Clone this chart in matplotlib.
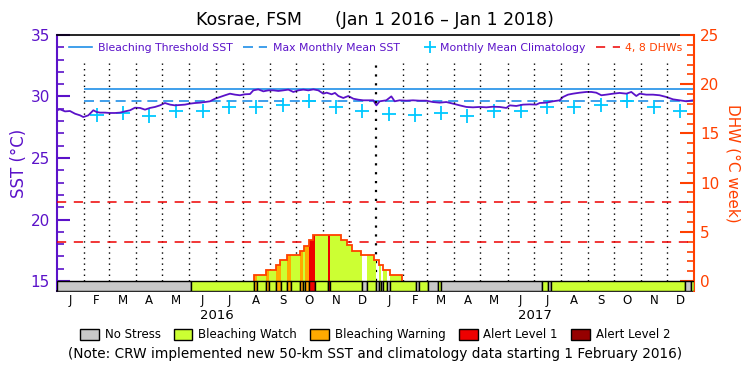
import numpy as np
import matplotlib
matplotlib.use("Agg")
import matplotlib.pyplot as plt
from matplotlib.lines import Line2D
from matplotlib.patches import Patch
from matplotlib.legend_handler import HandlerLine2D
import matplotlib.transforms as mtransforms

# ---------------------------------------------------------------------------
# Data (x values are days since 2016-01-01)
# ---------------------------------------------------------------------------
START = np.datetime64("2016-01-01")
END = np.datetime64("2018-01-01")

sst_days = [0, 3.4, 9.2, 14.9, 20.7, 26.4, 30.2, 36.0, 41.7, 45.5, 49.3, 55.1,
            60.8, 66.6, 72.3, 78.0, 83.8, 89.5, 95.3, 101.0, 106.7, 112.5,
            118.2, 123.9, 129.7, 135.4, 141.2, 146.9, 152.6, 158.4, 164.1,
            169.8, 175.6, 181.3, 187.1, 192.8, 198.5, 204.3, 210.0, 215.7,
            221.5, 225.3, 231.0, 236.8, 242.5, 248.3, 254.0, 259.7, 265.5,
            271.2, 277.0, 282.7, 288.4, 294.2, 299.9, 305.6, 309.5, 315.2,
            319.0, 322.9, 328.6, 334.3, 340.1, 345.8, 351.5, 357.3, 363.0,
            366.5, 370.3, 377.9, 383.7, 387.5, 393.2, 400.9, 408.5, 416.2,
            423.8, 431.5, 439.2, 446.8, 454.4, 462.1, 469.8, 477.4, 485.1,
            492.7, 500.4, 508.0, 515.7, 519.5, 527.1, 534.8, 542.4, 550.1,
            553.9, 561.6, 569.2, 576.9, 580.7, 586.4, 592.2, 599.8, 607.5,
            613.2, 618.9, 624.7, 630.4, 638.1, 645.7, 653.4, 659.1, 664.8,
            668.7, 676.3, 684.0, 691.6, 699.3, 706.9, 714.6, 722.2, 729.9]
sst_vals = [28.88, 28.96, 28.79, 28.82, 28.60, 28.47, 28.33, 28.47, 28.88,
            28.74, 28.69, 28.69, 28.66, 28.66, 28.69, 28.79, 28.88, 29.09,
            29.07, 28.93, 29.07, 29.15, 29.28, 29.47, 29.34, 29.28, 29.31,
            29.34, 29.42, 29.47, 29.50, 29.55, 29.61, 29.82, 29.96, 30.10,
            30.23, 30.15, 30.10, 30.18, 30.20, 30.50, 30.58, 30.42, 30.50,
            30.50, 30.45, 30.50, 30.56, 30.37, 30.50, 30.56, 30.50, 30.58,
            30.50, 30.23, 30.31, 30.18, 30.29, 30.04, 29.88, 30.04, 29.82,
            29.74, 29.69, 29.69, 29.69, 29.28, 29.61, 29.69, 30.01, 29.61,
            29.69, 29.66, 29.69, 29.66, 29.66, 29.55, 29.50, 29.55, 29.42,
            29.28, 29.15, 29.12, 29.15, 29.12, 29.17, 29.15, 29.07, 29.28,
            29.23, 29.34, 29.36, 29.34, 29.47, 29.50, 29.61, 29.69, 29.96,
            30.15, 30.23, 30.31, 30.37, 30.37, 30.31, 30.10, 30.15, 30.23,
            30.29, 30.23, 30.37, 30.04, 30.23, 30.15, 30.15, 30.10, 29.96,
            29.77, 29.69, 29.61, 29.69]

# monthly mean climatology, Jan..Dec, shown from Feb 2016 on
clim_by_month = [28.55, 28.53, 28.65, 28.40, 28.80, 28.80,
                 29.12, 29.12, 29.28, 29.61, 29.17, 28.80]
clim_first_month = np.datetime64("2016-02")
mmm = 29.61
bleach_threshold = 30.61

# degree heating weeks (step profile)
dhw_edges = [226.1, 239.9, 251.0, 255.9, 264.3, 279.2, 283.8, 289.5, 293.8,
             325.6, 332.5, 338.9, 348.9, 363.8, 369.9, 374.5, 382.2, 395.6]
dhw_vals = [0.6, 1.1, 1.6, 2.1, 2.6, 3.1, 3.6, 4.2, 4.7,
            4.2, 3.7, 3.1, 2.6, 2.1, 1.6, 1.1, 0.6]
dhw_levels = [4, 8]

# alert status segments: 0 none, 1 watch, 2 warning, 3 alert 1, 4 alert 2
status_start = [0, 153.4, 226.1, 229.9, 239.9, 243.6, 251.0, 257.1, 264.3,
                268.2, 278.9, 282.0, 284.6, 289.5, 296.4, 311.3, 313.3,
                349.7, 355.4, 366.0, 369.0, 371.3, 374.5, 378.9, 382.4,
                411.6, 415.8, 426.1, 436.9, 440.3, 556.2, 563.8, 566.6,
                720.7, 727.6]
status_end = status_start[1:] + [731]
status_level = [0, 1, 2, 1, 2, 1, 2, 1, 2,
                1, 2, 1, 2, 3, 1, 3, 1,
                0, 1, 0, 1, 0, 1, 0, 1,
                0, 1, 0, 1, 0, 1, 0, 1,
                0, 1]

status_names = ["No Stress", "Bleaching Watch", "Bleaching Warning",
                "Alert Level 1", "Alert Level 2"]
status_colors = ["#c8c8c8", "#ccff33", "#ffaa00", "#ee0000", "#960000"]

MONTH_LETTERS = ["J", "F", "M", "A", "M", "J", "J", "A", "S", "O", "N", "D"]

PURPLE = "#5b12c9"
ORANGE_RED = "#ff4000"
BLUE = "#1f8fe8"
CYAN = "#00c8ff"

SST_LIM = (14.19, 35.0)
DHW_LIM = (1.25 * (SST_LIM[0] - 15), 25.0)


def day_of(d):
    return (np.asarray(d, dtype="datetime64[D]") - START).astype(int)


class MarkerRightHandler(HandlerLine2D):
    """Legend handler that puts the single marker next to the label."""

    def get_xdata(self, legend, xdescent, ydescent, width, height, fontsize):
        right = -xdescent + width
        return [right - 6, right], [right - 3]


months = np.arange("2016-01", "2018-01", dtype="datetime64[M]")
month_start = day_of(months.astype("datetime64[D]"))
month_end = day_of((months + 1).astype("datetime64[D]"))
month_mid = (month_start + month_end) / 2.0
total_days = day_of(END)

fig = plt.figure(figsize=(7.5, 3.75), dpi=100)
ax = fig.add_axes([0.076, 0.224, 0.8493, 0.6827])
ax2 = ax.twinx()

# --- SST axis ---
ax.set_xlim(0, total_days)
ax.set_ylim(*SST_LIM)
ax.plot(sst_days, sst_vals, color=PURPLE, lw=1.3, zorder=3)

line_start = day_of(clim_first_month.astype("datetime64[D]"))
ax.hlines(bleach_threshold, line_start, total_days, color=BLUE, lw=1.2)
ax.hlines(mmm, line_start, total_days, color=BLUE, lw=1.2,
          linestyles=(0, (6, 3.5)))

clim_idx = months >= clim_first_month
clim_vals = [clim_by_month[m.astype(int) % 12] for m in months[clim_idx]]
ax.plot(month_mid[clim_idx], clim_vals, ls="none", marker="+", ms=10,
        mew=1.3, color=CYAN)

ax.set_yticks(range(15, 36, 5))
ax.set_yticks(range(15, 36), minor=True)
ax.tick_params(axis="y", which="major", direction="in", length=9, width=1.5,
               color=PURPLE, labelcolor=PURPLE, labelsize=11, pad=5)
ax.tick_params(axis="y", which="minor", direction="in", length=4.8,
               width=1.2, color=PURPLE)
ax.set_ylabel("SST (°C)", color=PURPLE, fontsize=12, labelpad=2)

ax.set_xticks(month_mid)
ax.set_xticklabels([MONTH_LETTERS[m.astype(int) % 12] for m in months])
ax.tick_params(axis="x", length=0, pad=2, labelsize=8.5)

trans = mtransforms.blended_transform_factory(ax.transData, ax.transAxes)
for yr in ("2016", "2017"):
    mid = (day_of(np.datetime64(yr + "-01-01")) +
           day_of(np.datetime64(str(int(yr) + 1) + "-01-01"))) / 2.0
    ax.text(mid, -0.097, yr, transform=trans, ha="center", va="center",
            fontsize=9.5)

ax.spines["left"].set_color(PURPLE)
ax.spines["left"].set_linewidth(1.5)
ax.spines["right"].set_visible(False)
for s in ("top", "bottom"):
    ax.spines[s].set_color("black")
    ax.spines[s].set_linewidth(1.2)

# --- DHW axis ---
ax2.set_ylim(*DHW_LIM)
ax2.set_xlim(0, total_days)

dotted_top = 1.25 * (32.72 - 15)
for d, m in zip(month_start, months):
    if d == 0:
        continue
    thick = (m.astype(int) % 12) == 0
    ax2.vlines(d, 0, dotted_top, color="black", lw=1.6 if thick else 1.0,
               linestyles=(0, (1, 3)), zorder=1)

for lvl in dhw_levels:
    ax2.axhline(lvl, color="#ee0000", lw=1.1, ls=(0, (6, 5)), zorder=2)

edges = np.asarray(dhw_edges)
vals = np.asarray(dhw_vals)
for s, e, lvl in zip(status_start, status_end, status_level):
    if lvl == 0:
        continue
    a, b = max(s, edges[0]), min(e, edges[-1])
    if a >= b:
        continue
    ed = np.concatenate([[a], edges[(edges > a) & (edges < b)], [b]])
    mids = (ed[:-1] + ed[1:]) / 2.0
    v = vals[np.searchsorted(edges, mids) - 1]
    ax2.stairs(v, ed, fill=True, color=status_colors[lvl], lw=0, zorder=2)
ax2.stairs(vals, edges, baseline=0, fill=False, color=ORANGE_RED, lw=1.3,
           zorder=3)

# status bar along the bottom
widths = np.asarray(status_end) - np.asarray(status_start)
ax2.bar(status_start, -DHW_LIM[0], width=widths,
        bottom=DHW_LIM[0], align="edge",
        color=[status_colors[l] for l in status_level],
        edgecolor="black", linewidth=1.0, zorder=4)

ax2.set_yticks(range(0, 26, 5))
ax2.set_yticks(range(0, 26), minor=True)
ax2.tick_params(axis="y", which="major", direction="in", length=9.8,
                width=1.5, color=ORANGE_RED, labelcolor=ORANGE_RED,
                labelsize=11, pad=4.5)
ax2.tick_params(axis="y", which="minor", direction="in", length=4.8,
                width=1.2, color=ORANGE_RED)
ax2.set_ylabel("DHW (°C week)", color=ORANGE_RED, fontsize=11, rotation=270,
               labelpad=15)
for s in ("left", "top", "bottom"):
    ax2.spines[s].set_visible(False)
ax2.spines["right"].set_color(ORANGE_RED)
ax2.spines["right"].set_linewidth(1.5)

# legend inside the plot
clim_handle = Line2D([], [], color=CYAN, ls="none", marker="+", ms=9, mew=1.3)
handles = [
    Line2D([], [], color=BLUE, lw=1.2),
    Line2D([], [], color=BLUE, lw=1.2, ls=(0, (6, 3.5))),
    clim_handle,
    Line2D([], [], color="#ee0000", lw=1.1, ls=(0, (6, 5))),
]
labels = ["Bleaching Threshold SST", "Max Monthly Mean SST",
          "Monthly Mean Climatology", "4, 8 DHWs"]
leg = ax2.legend(handles, labels, loc="center", ncol=4, frameon=False,
                 fontsize=7.8, handlelength=2.2, handletextpad=0.5,
                 columnspacing=1.0, bbox_to_anchor=(0.5, 0.949),
                 borderaxespad=0.0, borderpad=0.0,
                 handler_map={clim_handle: MarkerRightHandler(numpoints=1)})
for t, c in zip(leg.get_texts(), [PURPLE, PURPLE, PURPLE, ORANGE_RED]):
    t.set_color(c)

# status legend below
patches = [Patch(facecolor=c, edgecolor="black", lw=1.0) for c in status_colors]
fig.legend(patches, status_names, loc="center", ncol=5, frameon=False,
           bbox_to_anchor=(0.5, 0.107), fontsize=8.5, handlelength=1.6,
           handleheight=1.1, handletextpad=0.5, columnspacing=1.1)

fig.text(0.5, 0.947, "Kosrae, FSM      (Jan 1 2016 – Jan 1 2018)",
         ha="center", va="center", fontsize=12.5)
fig.text(0.5, 0.056, "(Note: CRW implemented new 50-km SST and climatology "
         "data starting 1 February 2016)", ha="center", va="center",
         fontsize=9.8)

fig.savefig("out.png", dpi=100)
